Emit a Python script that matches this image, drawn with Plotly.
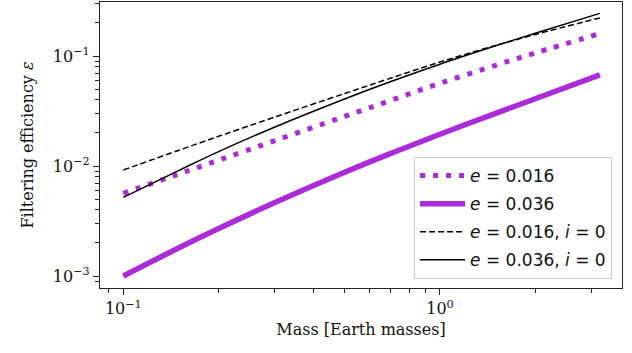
import numpy as np
import plotly.graph_objects as go

# ---- data ----
mass = [0.1, 0.15, 0.2, 0.3, 0.5, 0.7, 1.0, 1.5, 2.0, 3.2]
eff_e016 = [5.65e-3, 8.47e-3, 0.0113, 0.01694, 0.02825, 0.0395, 0.0565, 0.0824, 0.1067, 0.160]
eff_e036 = [1.0e-3, 1.807e-3, 2.70e-3, 4.63e-3, 8.77e-3, 0.01303, 0.01945, 0.0301, 0.0409, 0.0673]
eff_e016_i0 = [9.2e-3, 0.01393, 0.01862, 0.0278, 0.0456, 0.0630, 0.0881, 0.1247, 0.157, 0.222]
eff_e036_i0 = [5.19e-3, 9.14e-3, 0.01352, 0.02254, 0.0407, 0.0586, 0.0843, 0.1239, 0.161, 0.244]

x_tickvals = [0.1, 1.0]
x_ticktext = ["10<sup>\u22121</sup>", "10<sup>0</sup>"]
y_tickvals = [1e-3, 1e-2, 1e-1]
y_ticktext = ["10<sup>\u22123</sup>", "10<sup>\u22122</sup>", "10<sup>\u22121</sup>"]

PURPLE = "#ab2bd9"

fig = go.Figure()
fig.add_trace(go.Scatter(x=mass, y=eff_e016, mode="lines", name="<i>e</i> = 0.016",
                         legendgroup="a", line=dict(color=PURPLE, width=5, dash="5px,8px", shape="spline", smoothing=1.0)))
fig.add_trace(go.Scatter(x=mass, y=eff_e036, mode="lines", name="<i>e</i> = 0.036",
                         legendgroup="b", line=dict(color=PURPLE, width=5.5, shape="spline", smoothing=1.0)))
fig.add_trace(go.Scatter(x=mass, y=eff_e016_i0, mode="lines", name="<i>e</i> = 0.016, <i>i</i> = 0",
                         legendgroup="c", line=dict(color="black", width=1.5, dash="6px,3px", shape="spline", smoothing=1.0)))
fig.add_trace(go.Scatter(x=mass, y=eff_e036_i0, mode="lines", name="<i>e</i> = 0.036, <i>i</i> = 0",
                         legendgroup="d", line=dict(color="black", width=1.5, shape="spline", smoothing=1.0)))

x_minor = [0.09] + [k * 0.1 for k in range(2, 10)] + [2, 3]
y_minor = [9e-4] + [k * 1e-3 for k in range(2, 10)] + [k * 1e-2 for k in range(2, 10)] + [0.2, 0.3]

axis_common = dict(showgrid=False, zeroline=False, showline=True, linecolor="#222", linewidth=1.2,
                   mirror=True, ticks="outside", ticklen=6, tickwidth=1.2, tickcolor="#222",
                   automargin=False,
                   tickfont=dict(family="DejaVu Serif", size=16, color="#111"))

fig.update_xaxes(type="log", range=[-1.0736, 0.575], tickmode="array", tickvals=x_tickvals, ticktext=x_ticktext,
                 minor=dict(tickvals=x_minor, ticks="outside", ticklen=3.5, tickwidth=1, tickcolor="#222"),
                 title=dict(text="Mass [Earth masses]", font=dict(family="DejaVu Serif", size=16, color="#111"), standoff=6),
                 **axis_common)
fig.update_yaxes(type="log", range=[-3.109, -0.509], tickmode="array", tickvals=y_tickvals, ticktext=y_ticktext,
                 minor=dict(tickvals=y_minor, ticks="outside", ticklen=3.5, tickwidth=1, tickcolor="#222"),
                 title=dict(text="Filtering efficiency <i>\u03b5</i>", font=dict(family="DejaVu Serif", size=16, color="#111"), standoff=15),
                 **axis_common)

fig.update_layout(
    width=632, height=353,
    margin=dict(l=100, r=10, t=2, b=65),
    paper_bgcolor="white", plot_bgcolor="white",
    legend=dict(x=0.981, y=0.0315, xanchor="right", yanchor="bottom",
                bgcolor="rgba(255,255,255,0.8)", bordercolor="#cccccc", borderwidth=1,
                font=dict(family="DejaVu Sans", size=17, color="#111"), tracegroupgap=3,
                itemwidth=45),
    showlegend=True,
)

fig.write_html("out.html", config={"displayModeBar": False},
               post_script="document.body.style.margin='0';")
